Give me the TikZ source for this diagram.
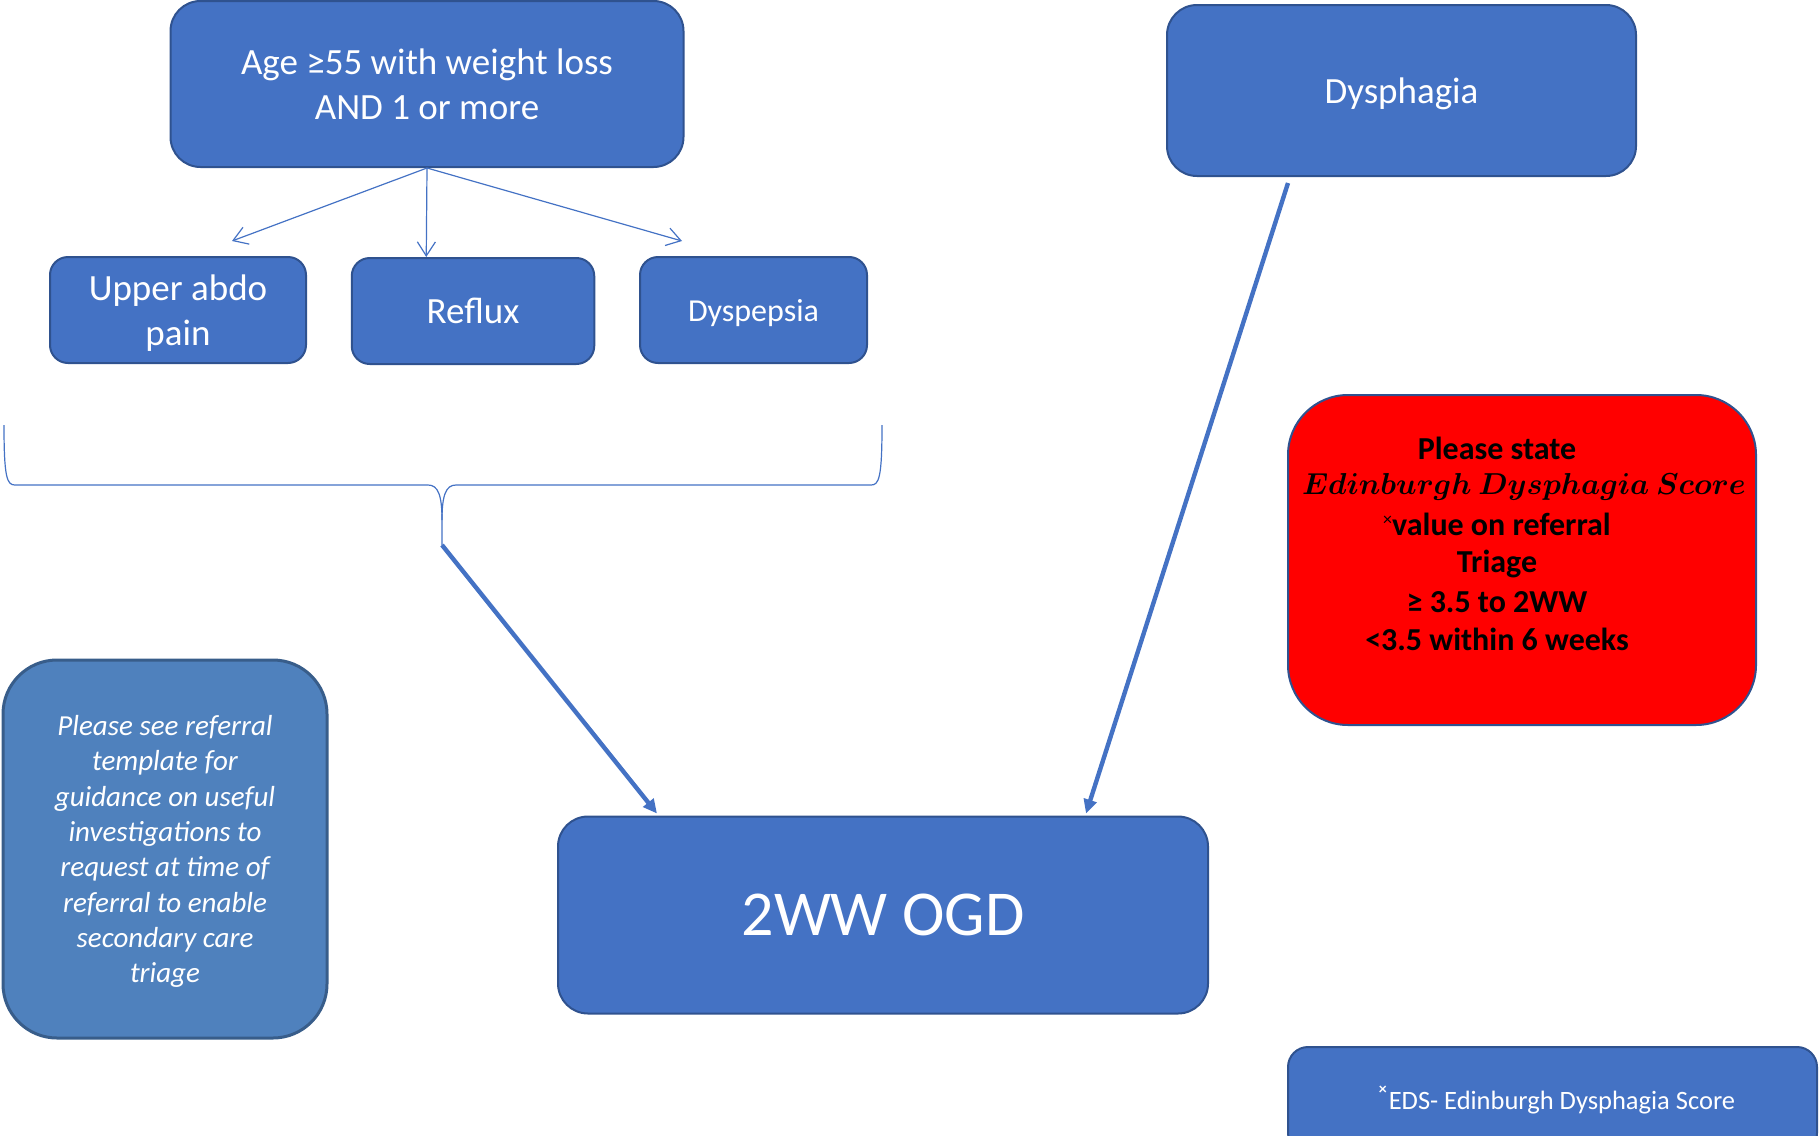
\documentclass[tikz,border=0pt]{standalone}
\usepackage{fontspec}
\usepackage{graphicx}
\setmainfont{Carlito}
\usetikzlibrary{arrows.meta,calc}
\definecolor{oblue}{HTML}{4472C4}
\definecolor{oborder}{HTML}{2F528F}
\definecolor{nblue}{HTML}{4F81BD}
\definecolor{nborder}{HTML}{385D8A}
\definecolor{ored}{HTML}{FF0000}
\begin{document}
\begin{tikzpicture}[x=0.5pt,y=-0.5pt,
  box/.style={draw=oborder, fill=oblue, line width=1pt, text=white, align=center, inner sep=0pt, text depth=0pt},
  bigtxt/.style={font=\fontsize{18.5}{22.5}\selectfont},
  redtxt/.style={font=\bfseries\fontsize{16}{19}\selectfont, text=black, inner sep=0pt},
  thinarrow/.style={draw=oblue, line width=0.6pt, -{Straight Barb[length=7pt,width=9pt]}},
  thickarrow/.style={draw=oblue, line width=2.2pt, -{Triangle[length=7pt,width=6.5pt]}},
  bracepath/.style={draw=oblue, line width=0.6pt}
]
\useasboundingbox (0,0) rectangle (1819,1135);

% top left group
\node[box, bigtxt, rounded corners=15pt, minimum width=256.5pt, minimum height=83pt] (age) at (427,84) {Age ≥55 with weight loss\\AND 1 or more};
\node[box, bigtxt, rounded corners=9pt, minimum width=128pt, minimum height=53pt] (upper) at (178,310) {Upper abdo\\pain};
\node[box, bigtxt, rounded corners=9pt, minimum width=121.25pt, minimum height=53pt] (reflux) at (473,311) {Reflux};
\node[box, font=\fontsize{16}{19}\selectfont, rounded corners=9pt, minimum width=113.5pt, minimum height=53pt] (dysp) at (753.5,310) {Dyspepsia};

\draw[thinarrow] (age.south) -- ($(upper.north west)+(183,-15)$);
\draw[thinarrow] (age.south) -- ($(reflux.north west)+(75.5,0)$);
\draw[thinarrow] (age.south) -- ($(dysp.north west)+(43,-15)$);

% brace
\coordinate (bracetip) at (442,545);
\draw[bracepath] (4,425) .. controls (4,478) and (7,485) .. (15,485) -- (428,485)
   .. controls (438,485) and (442,495) .. (442,520) -- (bracetip);
\draw[bracepath] (882,425) .. controls (882,478) and (879,485) .. (871,485) -- (456,485)
   .. controls (446,485) and (442,495) .. (442,520);

% dysphagia
\node[box, bigtxt, rounded corners=15pt, minimum width=234.5pt, minimum height=85.5pt] (dysph) at (1401.5,90.5) {Dysphagia};

% OGD
\node[box, font=\fontsize{32}{38}\selectfont, rounded corners=15pt, minimum width=325pt, minimum height=98.5pt] (ogd) at (883,915) {2WW OGD};

\draw[thickarrow] (bracetip) -- ($(ogd.north west)+(100,-2)$);
\coordinate (dysout) at ($(dysph.south west)+(122,6)$);
\draw[thickarrow] (dysout) -- ($(ogd.north west)+(529,-2)$);

% red box
\node[draw=oborder, fill=ored, line width=1pt, rounded corners=30pt, minimum width=234pt, minimum height=165pt] (red) at (1522,560) {};
\node[redtxt] (r1) at (1497,448) {Please state};
\node[redtxt, font=\boldmath\fontsize{14.4}{19}\selectfont] (r2) at (1524,487) {\resizebox{222pt}{!}{$Edinburgh\ Dysphagia\ Score$}};
\node[redtxt] (r3) at (1497,524) {\raisebox{0.6ex}{\mdseries\fontsize{9}{9}\selectfont ×}value on referral};
\node[redtxt] (r4) at (1497,564) {Triage};
\node[redtxt] (r5) at (1497,602) {≥ 3.5 to 2WW};
\node[redtxt] (r6) at (1497,639) {<3.5 within 6 weeks};

% left note
\node[draw=nborder, fill=nblue, line width=1.5pt, rounded corners=27pt, minimum width=162pt, minimum height=189pt, text=white, align=center, inner sep=0pt, text depth=0pt, font=\itshape\fontsize{14.5}{17.65}\selectfont] (note) at (165,849) {Please see referral\\template for\\guidance on useful\\investigations to\\request at time of\\referral to enable\\secondary care\\triage};

% EDS footnote box
\node[box, rounded corners=10pt, minimum width=264.5pt, minimum height=53pt] (eds) at (1552.5,1100) {};
\node[text=white, inner sep=0pt, font=\fontsize{13.25}{16}\selectfont] (edstxt) at (1557,1100) {\raisebox{1.2ex}{\bfseries\fontsize{8}{8}\selectfont ×}\hspace{1pt}EDS- Edinburgh Dysphagia Score};
\end{tikzpicture}
\end{document}
